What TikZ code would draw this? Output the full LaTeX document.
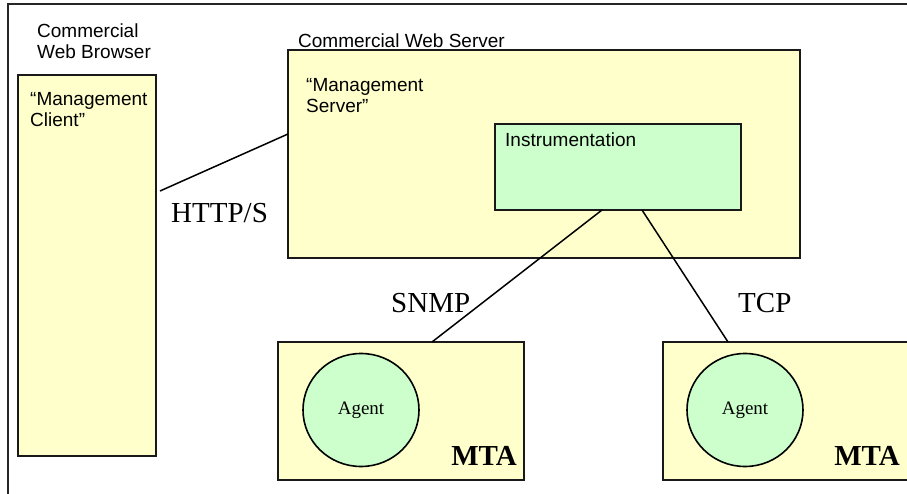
\documentclass[tikz,border=0pt]{standalone}
\usepackage{fontspec}
\setmainfont{Liberation Serif}
\newfontfamily\arialfont{Liberation Sans}
\usetikzlibrary{shapes.geometric}
\definecolor{paleyellow}{HTML}{FFFFCC}
\definecolor{palegreen}{HTML}{CCFFCC}
\newcommand{\twolines}[2]{\vtop{\baselineskip=21pt\hbox{#1}\hbox{#2}}}
\begin{document}
\begin{tikzpicture}[x=1pt,y=-1pt,
  yellowbox/.style={rectangle, draw=black!90, line width=1.9pt, fill=paleyellow, inner sep=0pt, outer sep=0pt},
  greenbox/.style={rectangle, draw=black!90, line width=1.9pt, fill=palegreen, inner sep=0pt, outer sep=0pt},
  agentnode/.style={ellipse, draw=black, line width=1.6pt, fill=palegreen, inner sep=0pt, outer sep=0pt,
    font=\fontsize{19}{21}\selectfont},
  link/.style={line width=1.5pt, draw=black},
  sanslabel/.style={font=\arialfont\fontsize{19}{21}\selectfont, anchor=base west, inner sep=0pt},
  serlabel/.style={font=\fontsize{29}{32}\selectfont, anchor=base west, inner sep=0pt},
  mtalabel/.style={font=\bfseries\fontsize{29}{32}\selectfont, anchor=base east, inner sep=0pt}]

\useasboundingbox (0,0) rectangle (907,494);
\clip (0,0) rectangle (907,494);

% outer frame (runs past the right and bottom edges)
\draw[line width=2pt, draw=black!85] (8,4) rectangle (930,520);

% boxes
\node[yellowbox, minimum width=138pt, minimum height=381pt] (browser) at (87,265.5) {};
\node[yellowbox, minimum width=512pt, minimum height=208pt] (server) at (544,154) {};
\node[greenbox, minimum width=246pt, minimum height=86pt] (instr) at (618,167) {};
\node[yellowbox, minimum width=246pt, minimum height=138pt] (mta1) at (401,411) {};
\node[yellowbox, minimum width=246pt, minimum height=138pt] (mta2) at (786,411) {};

\node[agentnode, minimum width=116pt, minimum height=113pt] (agent1) at (361,410) {Agent};
\node[agentnode, minimum width=116pt, minimum height=113pt] (agent2) at (745,410) {Agent};

% labels
\node[sanslabel] (lbrowser) at (37,38) {\twolines{Commercial}{Web Browser}};
\node[sanslabel] (lserver) at (298,48) {Commercial Web Server};
\node[sanslabel] (lclient) at (30,106) {\twolines{“Management}{Client”}};
\node[sanslabel] (lmserver) at (306,92) {\twolines{“Management}{Server”}};
\node[sanslabel] (linstr) at (505,147) {Instrumentation};

\node[mtalabel] (mtalabel1) at (517,465) {MTA};
\node[mtalabel] (mtalabel2) at (900,465) {MTA};

% connectors
\coordinate (httpstart) at (160,191);
\draw[link] (httpstart) -- (server.west |- 0,134);
\draw[link] (instr.south -| 602,0) -- (mta1.north -| 432,0);
\draw[link] (instr.south -| 642,0) -- (mta2.north -| 728,0);

\node[serlabel] (lhttp) at (171,223) {HTTP/S};
\node[serlabel] (lsnmp) at (391,312) {SNMP};
\node[serlabel] (ltcp) at (738,312) {TCP};
\end{tikzpicture}
\end{document}
